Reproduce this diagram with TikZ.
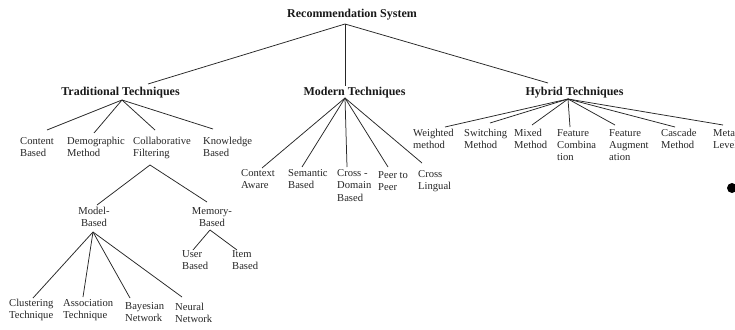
\documentclass[tikz,border=0pt]{standalone}
\usepackage{fontspec}
\setmainfont{Liberation Serif}
\begin{document}
\begin{tikzpicture}[x=1pt,y=-1pt,
  head/.style={font=\bfseries\fontsize{12}{14}\selectfont, inner sep=0pt, text=black!90},
  leaf/.style={font=\fontsize{10.6}{12.4}\selectfont, align=left, anchor=north west, inner sep=0pt, text=black!85},
  cleaf/.style={leaf, align=center, anchor=north},
  conn/.style={draw=black!85, line width=0.75pt}]
\clip (0,0) rectangle (735,329);
\fill[white] (0,0) rectangle (735,329);

% headings
\node[head] (root) at (352,15) {Recommendation System};
\node[head] (trad) at (120.5,93) {Traditional Techniques};
\node[head] (mod)  at (354.5,93) {Modern Techniques};
\node[head] (hyb)  at (574.5,93) {Hybrid Techniques};

% traditional
\node[leaf] (cb)  at (20,137)  {Content\\Based};
\node[leaf] (dm)  at (67,137)  {Demographic\\Method};
\node[leaf] (cf)  at (133,137) {Collaborative\\Filtering};
\node[leaf] (kb)  at (203,137) {Knowledge\\Based};
\node[cleaf] (mb) at (94,207)  {Model-\\Based};
\node[cleaf] (meb) at (212,207) {Memory-\\Based};
\node[leaf] (ct)  at (9,299)   {Clustering\\Technique};
\node[leaf] (at)  at (63,299)  {Association\\Technique};
\node[leaf] (bn)  at (125,302) {Bayesian\\Network};
\node[leaf] (nn)  at (175,303) {Neural\\Network};
\node[leaf] (ub)  at (182,250) {User\\Based};
\node[leaf] (ib)  at (232,250) {Item\\Based};

% modern
\node[leaf] (ca)  at (241,169) {Context\\Aware};
\node[leaf] (sb)  at (288,169) {Semantic\\Based};
\node[leaf] (cd)  at (337,169) {Cross -\\Domain\\Based};
\node[leaf] (pp)  at (378,171) {Peer to\\Peer};
\node[leaf] (cl)  at (418,170) {Cross\\Lingual};

% hybrid
\node[leaf] (wm)  at (413,129) {Weighted\\method};
\node[leaf] (sm)  at (464,129) {Switching\\Method};
\node[leaf] (mm)  at (514,129) {Mixed\\Method};
\node[leaf] (fc)  at (557,129) {Feature\\Combina\\tion};
\node[leaf] (fa)  at (609,129) {Feature\\Augment\\ation};
\node[leaf] (cm)  at (661,129) {Cascade\\Method};
\node[leaf] (ml)  at (713,129) {Meta\\Level};

% junction points and connector ends
\coordinate (j-root) at (345,24);
\coordinate (p-trad) at (148,84);
\coordinate (p-mod)  at (345,86);
\coordinate (p-hyb)  at (548,83);

\coordinate (j-trad) at (122,100);
\coordinate (p-cb) at (47,130);
\coordinate (p-dm) at (94,133);
\coordinate (p-cf) at (155,130);
\coordinate (p-kb) at (213,129);

\coordinate (j-cf) at (150,165);
\coordinate (p-mb) at (97,205);
\coordinate (p-meb) at (207,202);

\coordinate (j-mb) at (93,232);
\coordinate (p-ct) at (33,298);
\coordinate (p-at) at (83,297);
\coordinate (p-bn) at (130,298);
\coordinate (p-nn) at (182,297);

\coordinate (j-meb) at (210,230);
\coordinate (p-ub) at (193,250);
\coordinate (p-ib) at (237,250);

\coordinate (j-mod) at (345,98);
\coordinate (p-ca) at (262,168);
\coordinate (p-sb) at (302,167);
\coordinate (p-cd) at (347,167);
\coordinate (p-pp) at (388,167);
\coordinate (p-cl) at (422,163);

\coordinate (j-hyb) at (568,99);
\coordinate (p-wm) at (445,127);
\coordinate (p-sm) at (490,123);
\coordinate (p-mm) at (532,125);
\coordinate (p-fc) at (570,127);
\coordinate (p-fa) at (615,125);
\coordinate (p-cm) at (675,127);
\coordinate (p-ml) at (723,125);

\foreach \e in {p-trad,p-mod,p-hyb} \draw[conn] (j-root) -- (\e);
\foreach \e in {p-cb,p-dm,p-cf,p-kb} \draw[conn] (j-trad) -- (\e);
\foreach \e in {p-mb,p-meb} \draw[conn] (j-cf) -- (\e);
\foreach \e in {p-ct,p-at,p-bn,p-nn} \draw[conn] (j-mb) -- (\e);
\foreach \e in {p-ub,p-ib} \draw[conn] (j-meb) -- (\e);
\foreach \e in {p-ca,p-sb,p-cd,p-pp,p-cl} \draw[conn] (j-mod) -- (\e);
\foreach \e in {p-wm,p-sm,p-mm,p-fc,p-fa,p-cm,p-ml} \draw[conn] (j-hyb) -- (\e);

% stray bullet at the right edge
\fill[black] (732,188) circle (5);
\end{tikzpicture}
\end{document}
